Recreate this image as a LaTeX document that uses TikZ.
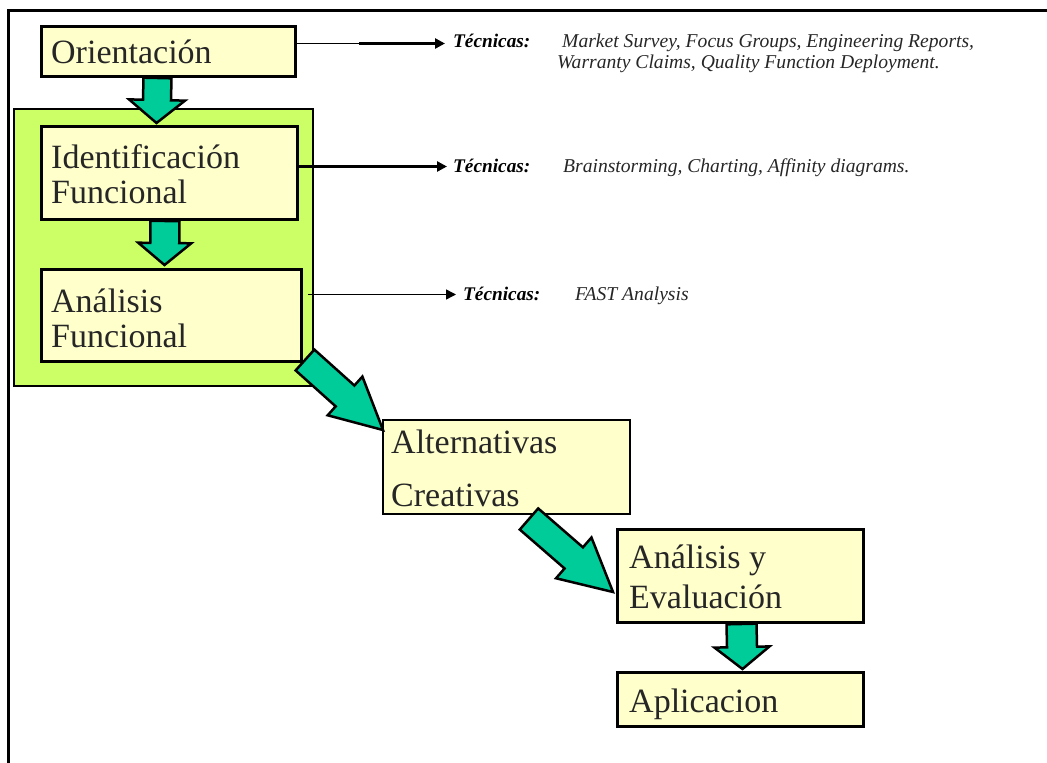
\documentclass[tikz,border=0pt]{standalone}
\usepackage{fontspec}
\setmainfont{Liberation Serif}
\usetikzlibrary{calc,arrows.meta}
\definecolor{boxyellow}{HTML}{FFFFCC}
\definecolor{groupgreen}{HTML}{CCFF66}
\definecolor{arrowteal}{HTML}{00CC99}
\newcommand\blockarr[5]{%
  \coordinate (ba-h) at ($(#2)!#5!(#1)$);
  \draw[blockarrow] ($(#1)!#3!90:(#2)$) -- ($(ba-h)!#3!90:(#2)$) -- ($(ba-h)!#4!90:(#2)$) -- (#2)
     -- ($(ba-h)!#4!-90:(#2)$) -- ($(ba-h)!#3!-90:(#2)$) -- ($(#1)!#3!-90:(#2)$) -- cycle;
}
\tikzset{
  stepbox/.style={draw, line width=3pt, fill=boxyellow, rectangle, inner sep=0pt, anchor=north west},
  groupbox/.style={draw, line width=2pt, fill=groupgreen, rectangle, inner sep=0pt, anchor=north west},
  bigtext/.style={font=\fontsize{34}{40}\selectfont, anchor=base west, inner sep=0pt, text=black!85},
  tlabel/.style={font=\fontsize{19.3}{22}\selectfont\bfseries\itshape, anchor=base west, inner sep=0pt},
  tdesc/.style={font=\fontsize{19.6}{22}\selectfont\itshape, anchor=base west, inner sep=0pt, text=black!85},
  blockarrow/.style={draw, fill=arrowteal, line width=2.5pt, line join=miter},
  techtip/.style={-{Triangle[length=10pt,width=10pt]}},
}
\begin{document}
\begin{tikzpicture}[x=1pt,y=-1pt]
\useasboundingbox (0,0) rectangle (1047,763);
% frame
\draw[line width=3pt] (1060,10.5) -- (8.5,10.5) -- (8.5,780);
% group box
\node[groupbox, minimum width=299pt, minimum height=277pt] (group) at (13,108) {};
% boxes
\node[stepbox, minimum width=254pt, minimum height=50pt] (orient) at (40,25) {};
\node[stepbox, minimum width=256pt, minimum height=93pt] (ident) at (40,125) {};
\node[stepbox, minimum width=260pt, minimum height=92pt] (anfun) at (40,268) {};
\node[stepbox, line width=2pt, minimum width=247pt, minimum height=94pt] (alt) at (382,419) {};
\node[stepbox, minimum width=246pt, minimum height=93pt] (aye) at (616,528) {};
\node[stepbox, minimum width=246pt, minimum height=54pt] (apl) at (616,671) {};
% box texts
\node[bigtext] (t-orient) at (51,63) {Orientación};
\node[bigtext] (t-ident1) at (51,168) {Identificación};
\node[bigtext] (t-ident2) at (51,203) {Funcional};
\node[bigtext] (t-anfun1) at (51,312) {Análisis};
\node[bigtext] (t-anfun2) at (51,347) {Funcional};
\node[bigtext] (t-alt1) at (391,453) {Alternativas};
\node[bigtext] (t-alt2) at (391,506) {Creativas};
\node[bigtext] (t-aye1) at (629,568) {Análisis y};
\node[bigtext] (t-aye2) at (629,608) {Evaluación};
\node[bigtext] (t-apl) at (629,712) {Aplicacion};
% technique texts
\node[tlabel] (tec1) at (453,47) {Técnicas:};
\node[tdesc] (d1a) at (562,47) {Market Survey, Focus Groups, Engineering Reports,};
\node[tdesc] (d1b) at (557,68) {Warranty Claims, Quality Function Deployment.};
\node[tlabel] (tec2) at (453,172) {Técnicas:};
\node[tdesc] (d2) at (563,172) {Brainstorming, Charting, Affinity diagrams.};
\node[tlabel] (tec3) at (463,300) {Técnicas:};
\node[tdesc] (d3) at (575,300) {FAST Analysis};
% technique connectors
\coordinate (o-out) at ($(orient.east)+(0,-8)$);
\coordinate (o-mid) at ($(o-out)+(62,0)$);
\draw[line width=1.2pt] (o-out) -- (o-mid);
\draw[line width=3pt, techtip, shorten >=8pt] (o-mid) -- (o-mid -| tec1.west);
\coordinate (i-out) at ($(ident.east)+(0,-6.5)$);
\draw[line width=2.5pt, techtip, shorten >=6pt] (i-out) -- (i-out -| tec2.west);
\coordinate (a-out) at ($(anfun.east)+(5,-21)$);
\draw[line width=1.5pt, techtip, shorten >=7pt] (a-out) -- (a-out -| tec3.west);
% block arrows
\coordinate (a1s) at ([xshift=-11pt]orient.south);
\coordinate (a1e) at ([xshift=-13pt,yshift=2pt]ident.north);
\blockarr{a1s}{a1e}{14pt}{28pt}{23pt}
\coordinate (a2s) at ([xshift=-4.5pt]ident.south);
\coordinate (a2e) at ([xshift=-7pt,yshift=3pt]anfun.north);
\blockarr{a2s}{a2e}{14.5pt}{26.5pt}{22pt}
\coordinate (d1s) at ([xshift=2pt,yshift=3pt]anfun.south east);
\coordinate (d1e) at ([xshift=1pt,yshift=-11pt]alt.north west);
\blockarr{d1s}{d1e}{14pt}{26pt}{51pt}
\coordinate (d2s) at ([xshift=22.5pt,yshift=-4pt]alt.south);
\coordinate (d2e) at ([xshift=-3pt,yshift=-64pt]aye.north west);
\blockarr{d2s}{d2e}{14pt}{27pt}{52pt}
\coordinate (a3s) at ([xshift=1pt]aye.south);
\coordinate (a3e) at ([xshift=2pt,yshift=2pt]apl.north);
\blockarr{a3s}{a3e}{15pt}{27.5pt}{22pt}
\end{tikzpicture}
\end{document}
